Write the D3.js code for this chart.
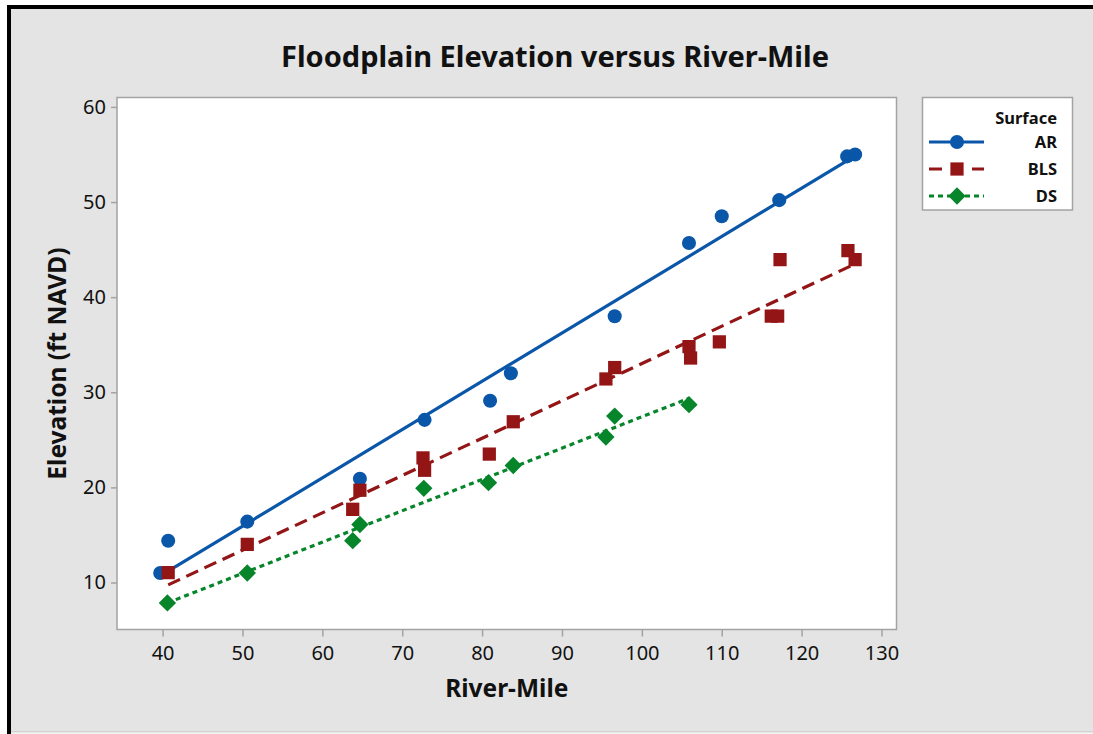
<!DOCTYPE html>
<html><head><meta charset="utf-8">
<script src="https://cdn.jsdelivr.net/npm/d3@7"></script>
<style>body{margin:0;background:#fff}svg{display:block}text{font-family:"Noto Sans","Open Sans",sans-serif}</style>
</head><body>
<svg id="c" width="1093" height="734"></svg>
<script>
const seriesNames = ["AR", "BLS", "DS"];
const arMile = [39.7, 40.7, 50.6, 64.7, 72.8, 81.0, 83.6, 96.6, 105.9, 110.0, 117.2, 125.7, 126.7];
const arElev = [11.0, 14.4, 16.4, 20.9, 27.1, 29.1, 32.0, 38.0, 45.7, 48.5, 50.2, 54.8, 55.0];
const blsMile = [40.7, 50.6, 63.8, 64.7, 72.6, 72.8, 80.9, 83.9, 95.5, 96.6, 105.9, 106.1, 109.7, 116.2, 117.0, 117.3, 125.8, 126.7];
const blsElev = [11.05, 14.0, 17.7, 19.7, 23.1, 21.8, 23.5, 26.9, 31.4, 32.6, 34.8, 33.6, 35.3, 38.0, 38.0, 43.95, 44.9, 43.95];
const dsMile = [40.6, 50.6, 63.8, 64.7, 72.7, 80.8, 83.9, 95.5, 96.6, 105.9];
const dsElev = [7.85, 11.0, 14.4, 16.1, 19.9, 20.5, 22.3, 25.3, 27.5, 28.7];
const xTicks = [40, 50, 60, 70, 80, 90, 100, 110, 120, 130];
const yTicks = [10, 20, 30, 40, 50, 60];
const colors = ["#0a56a8", "#931516", "#06852b"];

const svg = d3.select("#c");
// frame
svg.append("rect").attr("x", 7).attr("y", 5).attr("width", 1086).attr("height", 729).attr("fill", "#000");
svg.append("rect").attr("x", 11).attr("y", 9).attr("width", 1082).attr("height", 725).attr("fill", "#e4e4e4");
svg.append("rect").attr("x", 11).attr("y", 731).attr("width", 1082).attr("height", 1.5).attr("fill", "#d2d2d2");
svg.append("rect").attr("x", 11).attr("y", 732.5).attr("width", 1082).attr("height", 2).attr("fill", "#f4f4f4");

const L = 117, R = 896.5, T = 97.5, B = 629.5;
const x = d3.scaleLinear().domain([34.29, 131.88]).range([L, R]);
const y = d3.scaleLinear().domain([5.06, 60.99]).range([B, T]);

svg.append("rect").attr("x", L).attr("y", T).attr("width", R - L).attr("height", B - T)
  .attr("fill", "#fff").attr("stroke", "#a3a3a3").attr("stroke-width", 1.5);

const xa = svg.append("g").attr("transform", `translate(0,${B})`)
  .call(d3.axisBottom(x).tickValues(xTicks).tickSize(7).tickPadding(9).tickFormat(d3.format("d")));
const ya = svg.append("g").attr("transform", `translate(${L},0)`)
  .call(d3.axisLeft(y).tickValues(yTicks).tickSize(6).tickPadding(5).tickFormat(d3.format("d")));
[xa, ya].forEach(a => {
  a.select(".domain").remove();
  a.selectAll("line").attr("stroke", "#a3a3a3").attr("stroke-width", 1.5);
  a.selectAll("text").attr("font-size", 20).attr("fill", "#111").style("font-family", '"Noto Sans",sans-serif');
});

svg.append("text").attr("x", 555).attr("y", 67).attr("text-anchor", "middle")
  .attr("font-size", 29).attr("font-weight", "bold").attr("fill", "#111").text("Floodplain Elevation versus River-Mile");
svg.append("text").attr("x", (L + R) / 2).attr("y", 697).attr("text-anchor", "middle")
  .attr("font-size", 24.5).attr("font-weight", "bold").attr("fill", "#111").text("River-Mile");
svg.append("text").attr("transform", `translate(66,${(T + B) / 2}) rotate(-90)`).attr("text-anchor", "middle")
  .attr("font-size", 24.5).attr("font-weight", "bold").attr("fill", "#111").text("Elevation (ft NAVD)");

const data = [
  {name: "AR", xs: arMile, ys: arElev, dash: null, sym: d3.symbolCircle, size: 155, rot: 0},
  {name: "BLS", xs: blsMile, ys: blsElev, dash: "13,7", sym: d3.symbolSquare, size: 175, rot: 0},
  {name: "DS", xs: dsMile, ys: dsElev, dash: "5,4", sym: d3.symbolSquare, size: 150, rot: 45}
];
function fit(xs, ys) {
  const mx = d3.mean(xs), my = d3.mean(ys);
  let sxy = 0, sxx = 0;
  xs.forEach((v, i) => { sxy += (v - mx) * (ys[i] - my); sxx += (v - mx) * (v - mx); });
  const b = sxy / sxx, a = my - b * mx;
  const x0 = d3.min(xs), x1 = d3.max(xs);
  return [[x0, a + b * x0], [x1, a + b * x1]];
}
svg.append("clipPath").attr("id", "pc").append("rect").attr("x", L).attr("y", T).attr("width", R - L).attr("height", B - T);
const plot = svg.append("g").attr("clip-path", "url(#pc)");
const line = d3.line().x(d => x(d[0])).y(d => y(d[1]));
data.forEach((s, i) => {
  const g = plot.append("g");
  g.selectAll("path.pt").data(s.xs.map((v, j) => [v, s.ys[j]])).join("path").attr("class", "pt")
    .attr("transform", d => `translate(${x(d[0])},${y(d[1])}) rotate(${s.rot})`)
    .attr("d", d3.symbol(s.sym, s.size)).attr("fill", colors[i]);
  g.append("path").datum(fit(s.xs, s.ys)).attr("d", line).attr("fill", "none")
    .attr("stroke", colors[i]).attr("stroke-width", 3.2).attr("stroke-dasharray", s.dash);
});

// legend
const lg = svg.append("g");
lg.append("rect").attr("x", 922.5).attr("y", 97.5).attr("width", 150).attr("height", 112.5)
  .attr("fill", "#fff").attr("stroke", "#a3a3a3").attr("stroke-width", 1.5);
lg.append("text").attr("x", 1057).attr("y", 124).attr("text-anchor", "end").attr("font-size", 16.5).attr("font-weight", "bold").attr("fill", "#111").text("Surface");
data.forEach((s, i) => {
  const yy = 142 + i * 27;
  lg.append("line").attr("x1", 929).attr("x2", 984).attr("y1", yy).attr("y2", yy)
    .attr("stroke", colors[i]).attr("stroke-width", 3.2).attr("stroke-dasharray", s.dash ? (i === 1 ? "13,30" : "5,4") : null);
  lg.append("path").attr("transform", `translate(957,${yy}) rotate(${s.rot})`).attr("d", d3.symbol(s.sym, s.size)).attr("fill", colors[i]);
  lg.append("text").attr("x", 1057).attr("y", yy + 6).attr("text-anchor", "end").attr("font-size", 16.5).attr("font-weight", "bold").attr("fill", "#111").text(seriesNames[i]);
});
</script>
</body></html>
